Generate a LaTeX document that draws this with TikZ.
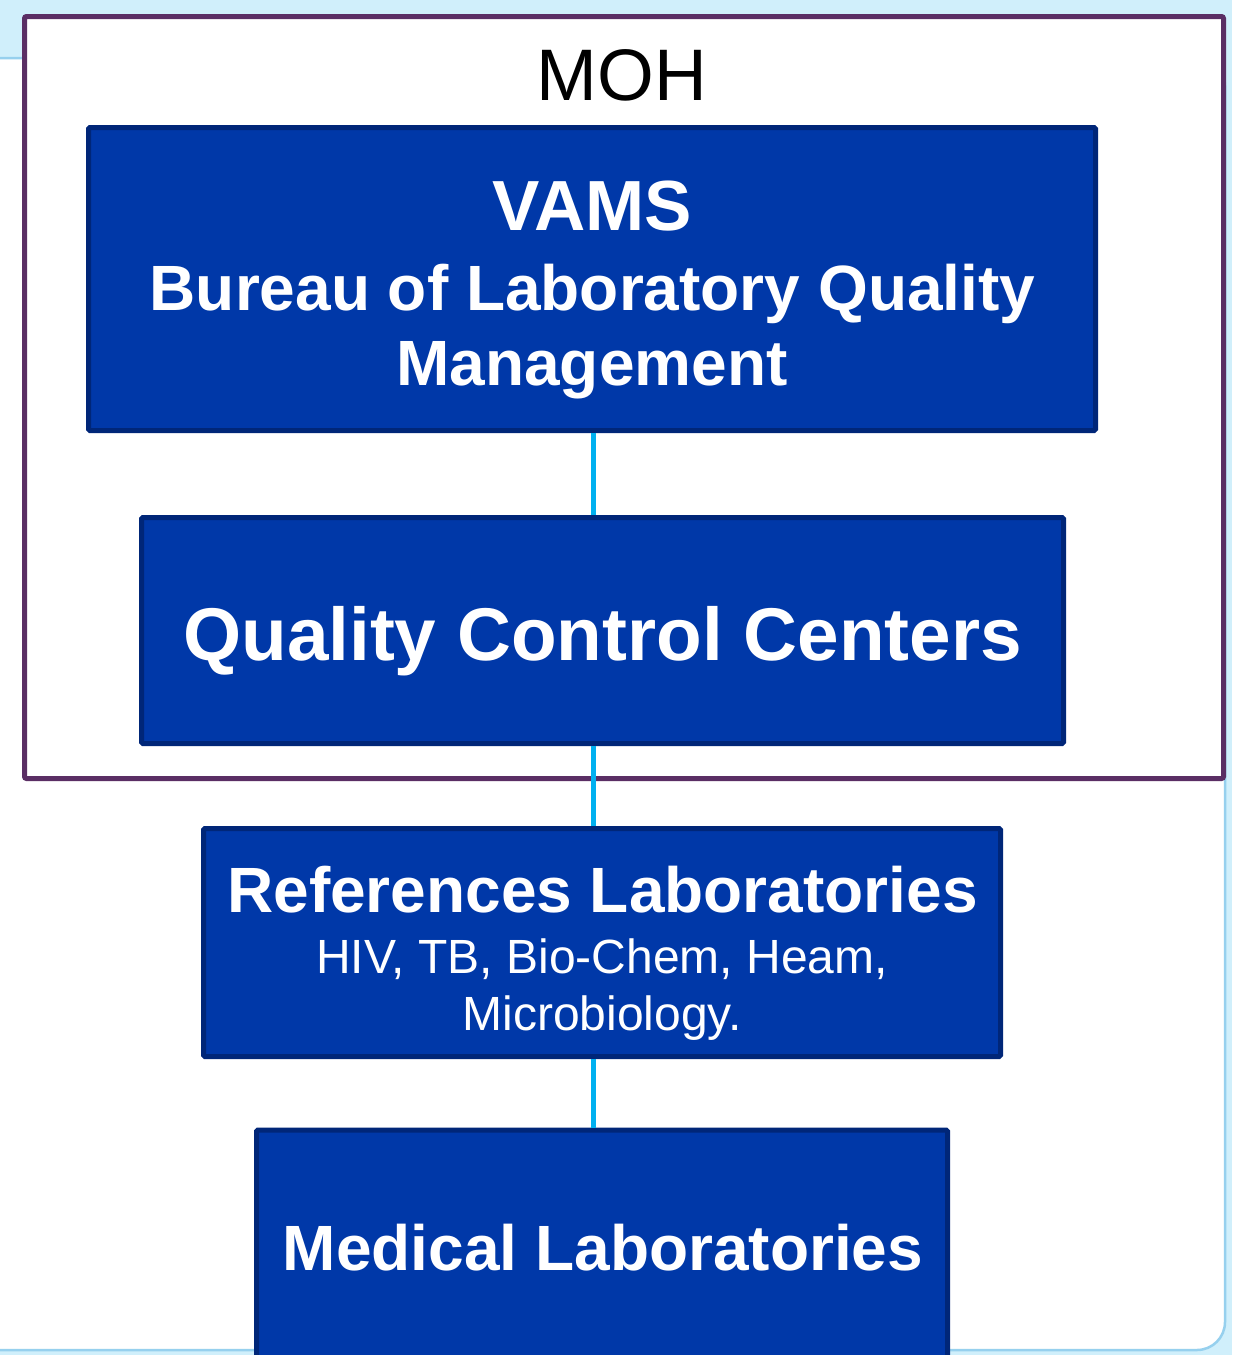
\documentclass[tikz,border=0pt]{standalone}
\usepackage{fontspec}
\setmainfont{Liberation Sans}
\definecolor{boxfill}{RGB}{0,56,168}
\definecolor{boxline}{RGB}{0,38,120}
\definecolor{frameline}{RGB}{90,46,100}
\definecolor{conncol}{RGB}{0,176,240}
\definecolor{bgblue}{RGB}{208,239,251}
\definecolor{bgedge}{RGB}{150,208,238}
\tikzset{
  orgbox/.style={draw=boxline, fill=boxfill, line width=5pt, inner sep=0pt, rounded corners=1.5pt},
  conn/.style={draw=conncol, line width=5pt},
  wtext/.style={text=white, inner sep=0pt, anchor=base, align=center},
}
\begin{document}
\begin{tikzpicture}[x=1pt,y=-1pt]
\useasboundingbox (0,0) rectangle (1232,1355);
\clip (0,0) rectangle (1232,1355);
% background
\fill[bgblue] (0,0) rectangle (1232,1355);
\fill[white, draw=bgedge, line width=2.5pt, rounded corners=28pt] (-30,58) rectangle (1225,1350);
% MOH frame
\node[draw=frameline, line width=5pt, fill=white, rounded corners=2pt, minimum width=1199pt, minimum height=762pt, inner sep=0pt] (moh) at (624,397.5) {};
\node[inner sep=0pt, anchor=base] (mohlabel) at (622,100) {\fontsize{73}{80}\selectfont MOH};
% boxes
\node[orgbox, minimum width=1007pt, minimum height=303pt] (vams) at (592,279) {};
\node[orgbox, minimum width=922pt, minimum height=226pt] (qcc) at (602.5,630.5) {};
\node[orgbox, minimum width=797pt, minimum height=228pt] (ref) at (602,942.5) {};
\node[orgbox, minimum width=691pt, minimum height=260pt] (med) at (602,1260) {};
% texts
\node[wtext] (vamst1) at (592,230) {\fontsize{71}{80}\selectfont\bfseries VAMS};
\node[wtext] (vamst2) at (592.5,310) {\fontsize{64}{76}\selectfont\bfseries Bureau of Laboratory Quality};
\node[wtext] (vamst3) at (592,385) {\fontsize{64}{76}\selectfont\bfseries Management};
\node[wtext] (qcct) at (602.5,660) {\fontsize{74.7}{80}\selectfont\bfseries Quality Control Centers};
\node[wtext] (reft1) at (602.5,912) {\fontsize{64}{76}\selectfont\bfseries References Laboratories};
\node[wtext] (reft2) at (602,973) {\fontsize{48}{56}\selectfont HIV, TB, Bio-Chem, Heam,};
\node[wtext] (reft3) at (602,1030) {\fontsize{48}{56}\selectfont Microbiology.};
\node[wtext] (medt) at (603,1270) {\fontsize{64}{76}\selectfont\bfseries Medical Laboratories};
% connectors
\coordinate (cx) at (593,0);
\draw[conn] (cx |- vams.south) -- (cx |- qcc.north);
\draw[conn] (cx |- qcc.south) -- (cx |- ref.north);
\draw[conn] (cx |- ref.south) -- (cx |- med.north);
\end{tikzpicture}
\end{document}
